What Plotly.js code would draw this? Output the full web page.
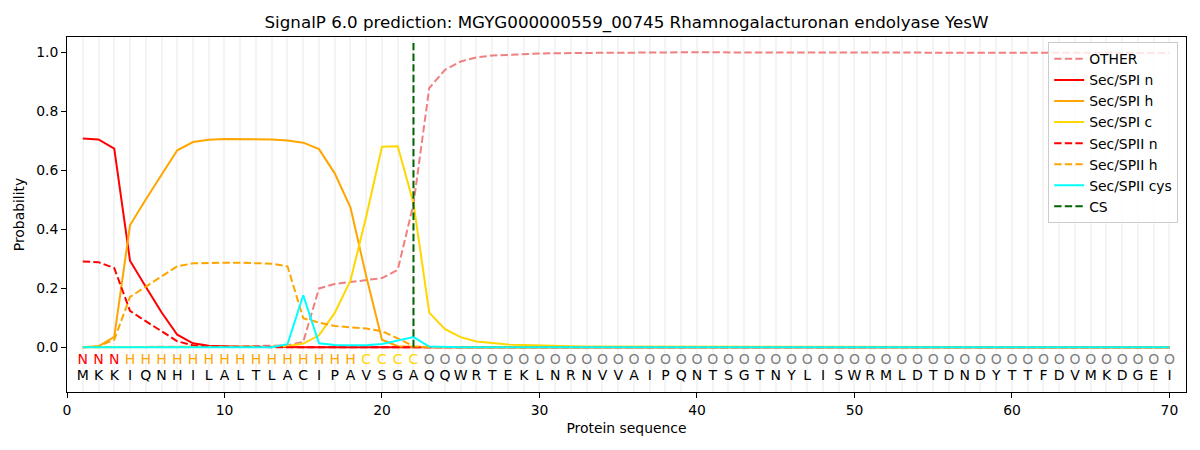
<!DOCTYPE html>
<html>
<head>
<meta charset="utf-8">
<script src="https://cdn.plot.ly/plotly-3.0.1.min.js"></script>
<style>
  html, body { margin: 0; padding: 0; background: #fff; }
  #chart { width: 1200px; height: 450px; }
</style>
</head>
<body>
<div id="chart"></div>
<script>
// SignalP 6.0 per-residue probabilities
const residues = ['M','K','K','I','Q','N','H','I','L','A','L','T','L','A','C','I','P','A','V','S',
  'G','A','Q','Q','W','R','T','E','K','L','N','R','N','V','V','A','I','P','Q','N',
  'T','S','G','T','N','Y','L','I','S','W','R','M','L','D','T','D','N','D','Y','T',
  'T','F','D','V','M','K','D','G','E','I'];
const regionLabels = ['N','N','N','H','H','H','H','H','H','H','H','H','H','H','H','H','H','H','C','C',
  'C','C','O','O','O','O','O','O','O','O','O','O','O','O','O','O','O','O','O','O',
  'O','O','O','O','O','O','O','O','O','O','O','O','O','O','O','O','O','O','O','O',
  'O','O','O','O','O','O','O','O','O','O'];

const other = [0, 0, 0, 0, 0, 0, 0, 0.001, 0.001, 0.002,
  0.003, 0.004, 0.005, 0.006, 0.018, 0.199, 0.214, 0.221, 0.226, 0.234,
  0.262, 0.485, 0.878, 0.940, 0.968, 0.982, 0.988, 0.991, 0.993, 0.995,
  0.996, 0.997, 0.997, 0.998, 0.998, 0.998, 0.999, 0.999, 0.999, 0.999,
  0.999, 0.999, 0.999, 0.999, 0.999, 0.999, 0.999, 0.999, 0.999, 0.999,
  0.999, 0.999, 0.999, 0.999, 0.999, 0.998, 0.998, 0.998, 0.998, 0.998,
  0.997, 0.997, 0.997, 0.997, 0.997, 0.997, 0.997, 0.997, 0.997, 0.997];
const spiN = [0.707, 0.704, 0.673, 0.293, 0.205, 0.118, 0.042, 0.013, 0.005, 0.002,
  0.001, 0.001, 0, 0, 0, 0, 0, 0, 0, 0,
  0, 0, 0, 0, 0, 0, 0, 0, 0, 0,
  0, 0, 0, 0, 0, 0, 0, 0, 0, 0,
  0, 0, 0, 0, 0, 0, 0, 0, 0, 0,
  0, 0, 0, 0, 0, 0, 0, 0, 0, 0,
  0, 0, 0, 0, 0, 0, 0, 0, 0, 0];
const spiH = [0, 0.003, 0.035, 0.413, 0.500, 0.585, 0.667, 0.695, 0.703, 0.705,
  0.705, 0.705, 0.704, 0.700, 0.693, 0.671, 0.589, 0.473, 0.240, 0.025,
  0.003, 0.001, 0, 0, 0, 0, 0, 0, 0, 0,
  0, 0, 0, 0, 0, 0, 0, 0, 0, 0,
  0, 0, 0, 0, 0, 0, 0, 0, 0, 0,
  0, 0, 0, 0, 0, 0, 0, 0, 0, 0,
  0, 0, 0, 0, 0, 0, 0, 0, 0, 0];
const spiC = [0, 0, 0, 0, 0, 0, 0, 0, 0, 0,
  0, 0, 0.001, 0.003, 0.012, 0.040, 0.116, 0.226, 0.443, 0.679,
  0.681, 0.488, 0.117, 0.061, 0.034, 0.019, 0.013, 0.009, 0.007, 0.005,
  0.004, 0.003, 0.002, 0.002, 0.001, 0.001, 0.001, 0.001, 0, 0,
  0, 0, 0, 0, 0, 0, 0, 0, 0, 0,
  0, 0, 0, 0, 0, 0, 0, 0, 0, 0,
  0, 0, 0, 0, 0, 0, 0, 0, 0, 0];
const spiiN = [0.290, 0.288, 0.268, 0.123, 0.088, 0.053, 0.020, 0.006, 0.002, 0.001,
  0, 0, 0, 0, 0, 0, 0, 0, 0, 0,
  0, 0, 0, 0, 0, 0, 0, 0, 0, 0,
  0, 0, 0, 0, 0, 0, 0, 0, 0, 0,
  0, 0, 0, 0, 0, 0, 0, 0, 0, 0,
  0, 0, 0, 0, 0, 0, 0, 0, 0, 0,
  0, 0, 0, 0, 0, 0, 0, 0, 0, 0];
const spiiH = [0, 0.003, 0.025, 0.170, 0.205, 0.240, 0.274, 0.284, 0.286, 0.286,
  0.286, 0.285, 0.283, 0.274, 0.098, 0.083, 0.072, 0.067, 0.063, 0.054,
  0.030, 0.003, 0, 0, 0, 0, 0, 0, 0, 0,
  0, 0, 0, 0, 0, 0, 0, 0, 0, 0,
  0, 0, 0, 0, 0, 0, 0, 0, 0, 0,
  0, 0, 0, 0, 0, 0, 0, 0, 0, 0,
  0, 0, 0, 0, 0, 0, 0, 0, 0, 0];
const spiiCys = [0, 0, 0, 0, 0, 0, 0, 0, 0, 0,
  0, 0, 0, 0.010, 0.176, 0.013, 0.007, 0.006, 0.006, 0.011,
  0.022, 0.034, 0.002, 0, 0, 0, 0, 0, 0, 0,
  0, 0, 0, 0, 0, 0, 0, 0, 0, 0,
  0, 0, 0, 0, 0, 0, 0, 0, 0, 0,
  0, 0, 0, 0, 0, 0, 0, 0, 0, 0,
  0, 0, 0, 0, 0, 0, 0, 0, 0, 0];
const csPos = 22;

const pos = residues.map((_, i) => i + 1);
const labelColors = { N: '#ff0000', H: '#ffa500', C: '#ffd700', O: '#808080' };
const FONT = 'DejaVu Sans, sans-serif';
const DASH = '7.4px,3.2px';

function line(name, y, color, dash) {
  return { type: 'scatter', mode: 'lines', name, x: pos, y,
    line: { color, width: 2, dash: dash || 'solid' }, hoverinfo: 'skip' };
}

const traces = [
  line('OTHER', other, '#f08080', DASH),
  line('Sec/SPI n', spiN, '#ff0000'),
  line('Sec/SPI h', spiH, '#ffa500'),
  line('Sec/SPI c', spiC, '#ffd700'),
  line('Sec/SPII n', spiiN, '#ff0000', DASH),
  line('Sec/SPII h', spiiH, '#ffa500', DASH),
  line('Sec/SPII cys', spiiCys, '#00ffff'),
  { type: 'scatter', mode: 'lines', name: 'CS', x: [csPos, csPos], y: [0, 1.04],
    line: { color: '#006400', width: 2, dash: DASH }, hoverinfo: 'skip' },
  { type: 'scatter', mode: 'text', x: pos, y: pos.map(() => -0.046), text: regionLabels,
    textfont: { family: FONT, size: 14, color: regionLabels.map(l => labelColors[l]) },
    showlegend: false, hoverinfo: 'skip' },
  { type: 'scatter', mode: 'text', x: pos, y: pos.map(() => -0.1), text: residues,
    textfont: { family: FONT, size: 14, color: '#000' },
    showlegend: false, hoverinfo: 'skip' }
];

const gridCol = '#f4f4f4';
const layout = {
  width: 1200, height: 450,
  margin: { l: 67, r: 14, t: 37, b: 58 },
  paper_bgcolor: '#fff', plot_bgcolor: '#fff',
  font: { family: FONT, size: 14, color: '#000' },
  title: { text: 'SignalP 6.0 prediction: MGYG000000559_00745 Rhamnogalacturonan endolyase YesW',
    font: { family: FONT, size: 16.7 }, x: 0.5, xref: 'paper', y: 0.951, yanchor: 'middle' },
  xaxis: {
    range: [0, 71.05], tickvals: [0, 10, 20, 30, 40, 50, 60, 70],
    showgrid: true, gridcolor: gridCol, gridwidth: 2,
    minor: { dtick: 1, tick0: 0, showgrid: true, gridcolor: gridCol, gridwidth: 2 },
    zeroline: false, showline: true, mirror: true, linecolor: '#000', linewidth: 1,
    ticks: 'outside', ticklen: 5, tickcolor: '#000',
    title: { text: 'Protein sequence', font: { family: FONT, size: 13.9 }, standoff: 6 },
    tickfont: { size: 13.9 }
  },
  yaxis: {
    range: [-0.152, 1.051], tickvals: [0, 0.2, 0.4, 0.6, 0.8, 1.0], tickformat: '.1f',
    showgrid: false, zeroline: false, showline: true, mirror: true, linecolor: '#000', linewidth: 1,
    ticks: 'outside', ticklen: 5, tickcolor: '#000',
    title: { text: 'Probability', font: { family: FONT, size: 13.9 }, standoff: 8 },
    tickfont: { size: 13.9 }
  },
  legend: {
    x: 0.993, xanchor: 'right', y: 0.985, yanchor: 'top',
    bgcolor: 'rgba(255,255,255,0.8)', bordercolor: '#cccccc', borderwidth: 1,
    font: { family: FONT, size: 13.9 }, tracegroupgap: 0
  },
  showlegend: true
};

Plotly.newPlot('chart', traces, layout, { displayModeBar: false, staticPlot: true });
</script>
</body>
</html>
